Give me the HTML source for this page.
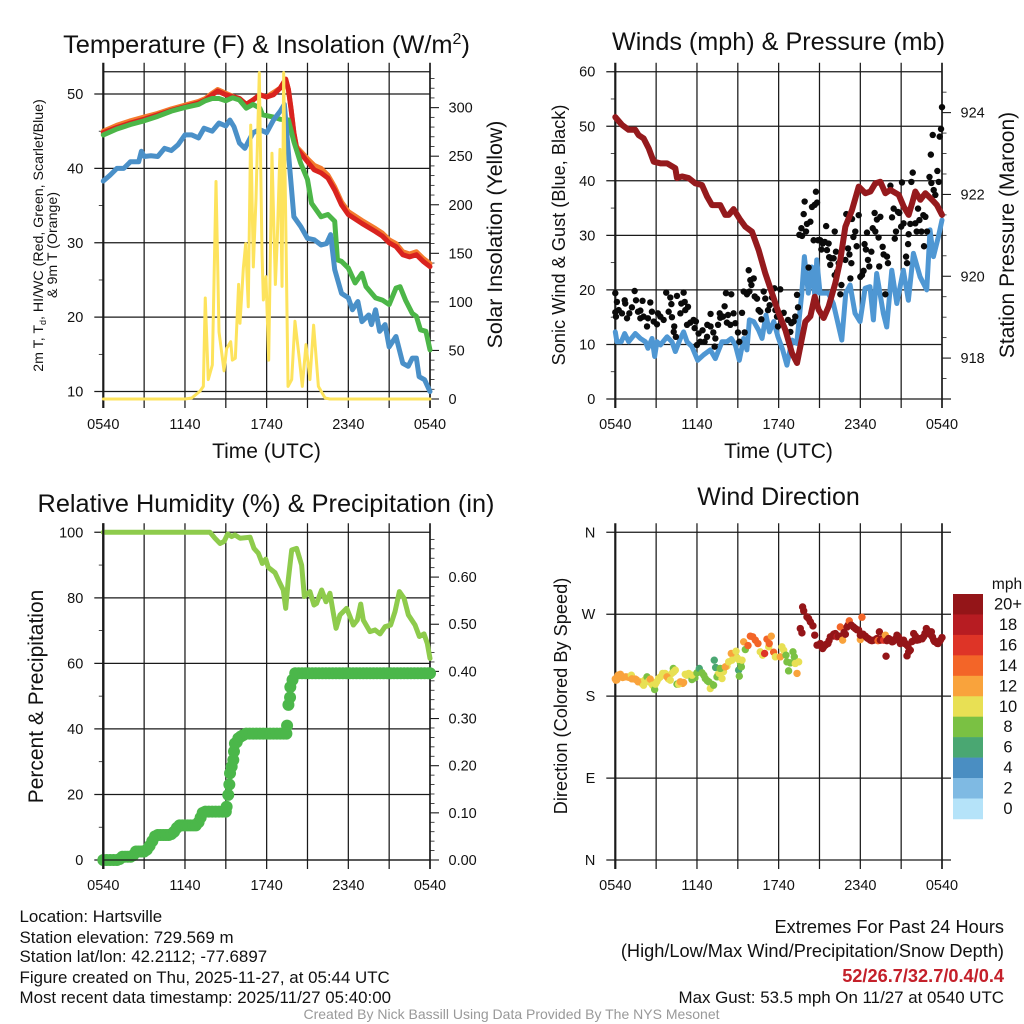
<!DOCTYPE html>
<html lang="en">
<head>
<meta charset="utf-8">
<title>Hartsville Mesonet Meteogram</title>
<style>
html,body{margin:0;padding:0;background:#fff;}
svg{display:block;}
text{font-family:"Liberation Sans",Arial,sans-serif;fill:#111;}
</style>
</head>
<body>
<svg id="figure" xmlns="http://www.w3.org/2000/svg" width="1024" height="1024" viewBox="0 0 1024 1024">
<rect x="0" y="0" width="1024" height="1024" fill="#fff"/>
<g id="p1"></g>
<g id="p2"></g>
<g id="p3"></g>
<g id="p4"></g>
<g id="legend"></g>

<text x="266.5" y="53" font-size="25.4" text-anchor="middle">Temperature (F) &amp; Insolation (W/m<tspan dy="-9" font-size="16">2</tspan><tspan dy="9">)</tspan></text>
<text x="778.5" y="50" font-size="25.2" text-anchor="middle">Winds (mph) &amp; Pressure (mb)</text>
<text x="266" y="512" font-size="25.3" text-anchor="middle">Relative Humidity (%) &amp; Precipitation (in)</text>
<text x="778.5" y="505" font-size="25" text-anchor="middle">Wind Direction</text>

<text x="266.5" y="458" font-size="21" text-anchor="middle">Time (UTC)</text>
<text x="778.5" y="458" font-size="21" text-anchor="middle">Time (UTC)</text>

<text transform="translate(43,235.5) rotate(-90)" font-size="14.2" text-anchor="middle">2m T, T<tspan dy="3" font-size="9">d</tspan><tspan dy="-3">, HI/WC (Red, Green, Scarlet/Blue)</tspan></text>
<text transform="translate(57,245) rotate(-90)" font-size="14.2" text-anchor="middle">&amp; 9m T (Orange)</text>
<text transform="translate(502,234.5) rotate(-90)" font-size="21.3" text-anchor="middle">Solar Insolation (Yellow)</text>
<text transform="translate(565,235) rotate(-90)" font-size="18.2" text-anchor="middle">Sonic Wind &amp; Gust (Blue, Black)</text>
<text transform="translate(1014,235) rotate(-90)" font-size="21" text-anchor="middle">Station Pressure (Maroon)</text>
<text transform="translate(43,696.5) rotate(-90)" font-size="21" text-anchor="middle">Percent &amp; Precipitation</text>
<text transform="translate(567,696) rotate(-90)" font-size="18.2" text-anchor="middle">Direction (Colored By Speed)</text>

<text x="19.5" y="922" font-size="16.9">Location: Hartsville</text>
<text x="19.5" y="943" font-size="16.9">Station elevation: 729.569 m</text>
<text x="19.5" y="962" font-size="16.9">Station lat/lon: 42.2112; -77.6897</text>
<text x="19.5" y="983" font-size="16.9">Figure created on Thu, 2025-11-27, at 05:44 UTC</text>
<text x="19.5" y="1003" font-size="16.9">Most recent data timestamp: 2025/11/27 05:40:00</text>

<text x="1004" y="933" font-size="18.2" text-anchor="end">Extremes For Past 24 Hours</text>
<text x="1004" y="957" font-size="18.2" text-anchor="end">(High/Low/Max Wind/Precipitation/Snow Depth)</text>
<text x="1004" y="982" font-size="18.2" font-weight="bold" text-anchor="end" style="fill:#c4202a">52/26.7/32.7/0.4/0.4</text>
<text x="1004" y="1003" font-size="16.9" text-anchor="end">Max Gust: 53.5 mph On 11/27 at 0540 UTC</text>
<text x="511.5" y="1019" font-size="14" text-anchor="middle" style="fill:#999">Created By Nick Bassill Using Data Provided By The NYS Mesonet</text>
</svg>

<script>
// ---- Shared axis data ----
const timeTickHours = [0,3,6,9,12,15,18,21,24];
const timeLabelHours = [0,6,12,18,24];
const timeLabels = ['0540','1140','1740','2340','0540'];

// ---- Panel 1: temperature (F) and insolation (W/m2) ----
const orangeHours = [0,1,2,3,4,5,6,7,7.5,8,8.4,9,9.5,10,10.5,11,11.5,12,13,13.4,13.6,13.8,14,14.2,15,15.5,16,16.5,17,17.5,18,19,20,20.5,21,21.5,22,22.5,23,23.5,24];
const orangeTemp = [45,45.8,46.4,46.9,47.4,48,48.5,49,49.4,50.1,50.6,50.1,49.7,49.4,48.6,49.2,49.9,49.6,50.8,52,50.6,47.9,44.8,42.9,41.3,40.4,40,39.1,37.5,35.5,34.2,33,31.9,31.3,30.4,29.9,28.8,28.5,28.8,27.9,27.2];
const redHours = [0,1,2,3,4,5,6,7,7.5,8,8.4,9,10,10.5,11,11.5,12,12.5,13,13.4,13.6,13.8,14,14.2,15,15.5,16,16.5,17,17.5,18,19,20,20.5,21,21.5,22,22.5,23,23.5,24];
const redTemp = [44.8,45.5,46.1,46.6,47.2,47.8,48.3,48.8,49.2,49.9,50.4,49.9,49.4,48.6,49.2,49.9,49.6,49.9,50.8,52,50.6,47.9,44.8,42.7,40.9,39.8,39.4,38.7,37.1,35.1,33.8,32.6,31.5,30.9,30,29.5,28.4,28.1,28.4,27.5,26.8];
const greenHours = [0,1,2,3,4,5,6,7,7.5,8,8.5,9,9.5,10,10.5,11,11.5,11.7,12.5,13,13.6,14,14.5,15,15.3,16,16.5,17,17.2,17.5,18,18.5,19,19.3,20,20.5,21,21.5,21.8,22.2,22.7,23,23.3,23.7,24];
const greenDewpoint = [44.5,45.3,45.9,46.4,47,47.7,48.2,48.6,49.1,49.4,49.4,49.1,49.5,49.2,48.1,48.6,48.1,47.2,46.9,46.6,46.5,43.6,40.7,38.5,35.3,33.5,33.8,32.9,27.7,27.5,26.6,24.6,25.9,24.1,22.6,22.3,21.7,23.9,24.1,22.3,20.5,20.1,18.3,18.1,15.6];
const blueHours = [0,.5,1,1.5,2,2.6,2.8,3,3.5,4,4.5,5,5.5,6,6.5,7,7.4,8,8.5,9,9.3,9.6,10,10.4,11,11.5,12,12.5,13,13.3,13.6,14,14.5,15,15.5,16,16.4,16.7,17,17.5,18,18.3,18.7,19,19.5,19.7,20,20.3,20.7,21,21.5,22,22.4,22.7,23,23.2,23.6,24];
const blueWindChill = [38.3,39.1,40,40,40.9,40.9,42.3,41.6,41.7,41.6,42.7,42.4,43.2,44.5,44.5,44.1,45.4,45,46.1,45.7,46.5,45.6,43.4,42.7,44.8,45.2,44.8,46.5,47.7,48.6,42.1,33.5,32.2,30.6,30.4,29.7,29.9,31.1,26.4,23.2,22.6,21,22.1,19.4,20.3,19,21,18.1,19,16,17.4,13.8,13.4,14.5,14.5,12,11.6,10];
const solarHours = [0,6,6.5,7.1,7.35,7.49,7.71,8.01,8.28,8.5,8.87,9.06,9.36,9.48,9.7,9.94,10.04,10.29,10.46,10.65,10.83,11.02,11.22,11.46,11.66,11.76,11.95,12.15,12.39,12.64,12.78,12.98,13.13,13.25,13.57,13.84,14.08,14.38,14.62,14.89,15.18,15.45,15.8,16.29,16.65,24];
const solarWatts = [0,0,1,8,13,104,20,35,224,69,29,52,59,40,42,118,78,135,160,95,282,136,207,336,150,102,126,40,253,118,164,257,116,336,13,20,80,44,13,56,20,76,13,1,0,0];
const tempTicks = [10,20,30,40,50];
const tempMinorTicks = [15,25,35,45];
const solarTicks = [0,50,100,150,200,250,300];
const solarMinorTicks = [10,20,30,40,60,70,80,90,110,120,130,140,160,170,180,190,210,220,230,240,260,270,280,290,310,320,330];

// ---- Panel 2: winds (mph) and station pressure (mb) ----
const pressureHours = [0,.49,.98,1.47,1.71,2.08,2.45,2.82,3.31,3.8,4.41,4.53,4.9,5.39,5.88,6.37,6.74,7.1,7.71,8.08,8.33,8.69,9.18,9.55,10.04,10.53,11.02,11.51,12,12.49,12.98,13.35,13.59,13.96,14.33,14.65,14.94,15.31,15.67,16.16,16.53,16.9,17.39,17.88,18.37,18.74,19.1,19.47,19.84,20.21,20.82,21.19,21.55,21.8,22.04,22.41,22.78,23.27,23.63,24];
const pressureMb = [923.89,923.7,923.58,923.58,923.45,923.37,923.13,922.8,922.76,922.76,922.64,922.4,922.44,922.4,922.27,922.23,921.95,921.74,921.74,921.5,921.5,921.64,921.38,921.21,921.09,920.64,920.07,919.59,919.1,918.69,918.12,917.88,918.28,918.89,919.02,919.5,919.18,918.98,919.26,919.83,920.4,921.21,921.62,922.19,922.03,922.07,922.27,922.31,922.03,922.11,921.99,921.7,921.5,921.78,922.07,921.87,922.03,921.87,921.74,921.5];
const windHours = [0,.12,.44,.69,.98,1.47,1.84,2.21,2.4,2.7,2.89,3.06,3.31,3.8,4.16,4.41,4.78,5.02,5.27,5.63,6.05,6.49,6.98,7.35,7.84,8.2,8.52,8.82,9.11,9.43,9.67,9.85,10.17,10.53,10.78,11.07,11.32,11.64,11.95,12.3,12.61,12.98,13.33,13.7,13.89,14.18,14.43,14.67,14.8,15.04,15.65,16.02,16.64,16.93,17.25,17.61,17.98,18.35,18.71,18.96,19.2,19.69,19.94,20.31,20.68,21.16,21.53,21.9,22.39,22.88,23.12,23.37,23.73,24];
const windMph = [12.3,10.5,10.5,12,10.5,12,11.1,10.5,9.3,11.1,7.8,10.5,9.9,11.4,10.5,8.7,11.1,12.3,10.5,9.6,7.1,8.1,9,7.4,10.5,10.5,11.1,9.9,7.1,11.1,9,14.5,14.2,12.6,11.1,15.4,12.3,14.2,11.4,9,6.2,10.8,10.2,19.4,26.1,19.4,24.2,18.7,25.5,19.4,19.4,17.5,10.8,19.4,20.9,15.7,14.2,20.3,20.6,14.5,23,15.7,13.2,23.6,17.5,23.6,18.1,26.7,22.4,20,31,26.1,29.7,32.8];
const gustHours = [0,0,.12,.05,.25,.49,.69,.73,.86,1.03,1.22,1.42,1.52,1.67,1.84,2,1.84,2.08,2.33,2.4,2.57,2.69,2.82,3.06,3.13,3.31,3.55,3.74,3.92,4.04,4.12,4.16,4.33,4.29,4.53,4.45,4.78,4.85,5.02,5.1,5.14,5.34,5.27,5.51,5.75,5.83,5.92,6,6.12,6.24,6.41,6.56,6.74,6.76,7,7,7.2,7.35,7.3,7.55,7.67,7.71,7.91,8.03,8.13,8.2,8.28,8.45,8.52,8.69,8.82,9.01,9.11,9.31,9.43,9.5,9.67,9.8,9.92,10,9.85,10.17,10.24,10.41,10.53,10.65,10.73,10.9,11.02,11.22,11.34,11.51,11.69,11.76,11.88,11.95,12.12,12.37,12.69,12.86,12.93,13.1,13.22,13.35,13.42,13.52,13.67,13.72,13.84,13.91,14.01,14.08,14.2,14.33,14.45,14.57,14.65,14.74,14.82,14.89,15.06,15.14,15.24,15.39,15.49,15.55,15.67,15.71,15.86,15.79,16.04,16.12,16.21,16.12,16.29,16.41,16.53,16.61,16.9,16.97,17.1,17.2,17.27,17.34,17.39,17.49,17.63,17.73,17.88,18,18.12,18.24,18.31,18.41,18.49,18.56,18.66,18.81,18.91,19.05,19.1,19.22,19.34,19.39,19.47,19.64,19.71,19.84,19.96,20.03,20.21,20.33,20.45,20.53,20.62,20.76,20.86,21,21.06,21.18,21.36,21.43,21.51,21.55,21.67,21.75,21.85,22.04,22.14,22.24,22.34,22.49,22.63,22.78,22.68,22.9,23.08,23.18,23.32,23.22,23.39,23.51,23.66,23.76,23.83,23.93,24];
const gustMph = [19.4,15.9,17.8,15.1,16.3,15.7,18.1,17.5,14.8,15.7,16.8,19.8,18.1,16,16.2,18,14.8,15.1,13.3,14.8,17.7,16,14.2,13.7,15.7,15.1,14.5,19.5,16,18.6,17.4,15,13.3,12.3,18.9,11.4,15.7,17.5,19.5,17.8,16.3,16.9,13.6,14,14.5,13,14.2,9.9,12,10.5,12.6,10.5,11.4,13.6,15.6,13.3,12.2,11.1,9.6,13.6,15.7,14.9,15.1,17,19.4,14,15.4,13.6,19.2,15.7,13.9,12.2,10.5,15.8,19.7,12.2,19.2,23.6,21.8,20.9,19.7,22.1,18.8,18.4,16.3,16,14.6,19.7,18.4,16.3,17.2,18.6,20.3,16.3,15.1,13.3,20.1,15.8,14.5,12.3,13.9,14.2,15.1,19.1,16.8,30.1,31.3,29.9,33.9,36.2,30.7,32.1,24.1,32.5,35.2,29.1,35.6,38,36,29.1,29.1,27.4,28.5,28.8,31.7,27.3,28.5,26,25.8,24.6,25.8,30.7,27,22.7,23.3,24.9,19.2,20.9,25.5,33.9,27.6,26.5,22.1,24.9,33,29.7,30.7,28,33.7,22.4,22.7,23.5,28.4,27.4,30.5,25.5,24.3,27,31.3,34.1,30.7,32.9,29.6,24.3,33.4,27.9,26.5,19.2,26.1,24.9,39.1,33.3,34.9,29.4,30.7,34.3,34.1,31.6,39.7,32.2,26.1,24.9,28.4,30.2,32.1,39.8,41.5,32.2,30.7,34.9,32.8,30.7,33.7,33.4,28,30.7,40.7,44.8,48.4,39.6,38.3,37.4,41.8,39.8,48.1,49.5,53.5];
const mphTicks = [0,10,20,30,40,50,60];
const mphMinorTicks = [5,15,25,35,45,55];
const pressureTicks = [918,920,922,924];
const pressureMinorTicks = [917.5,918.5,919,919.5,920.5,921,921.5,922.5,923,923.5,924.5];

// ---- Panel 3: relative humidity (%) and precipitation (in) ----
const humidityHours = [0,7.84,8.2,8.57,8.87,9.14,9.43,9.67,10.04,10.78,11.07,11.39,11.68,11.93,12.12,12.61,12.98,13.22,13.4,13.59,13.84,14.2,14.57,14.77,15.18,15.48,15.67,16.04,16.36,16.65,16.9,17.1,17.39,17.88,18.37,18.66,18.91,19.1,19.59,19.96,20.33,20.7,21.11,21.43,21.75,22.09,22.41,22.9,23.22,23.56,23.8,24];
const humidityPct = [100,100,98.2,96.6,97.2,99.5,98.7,99.2,98.2,98.5,95.1,93.6,90.5,91.8,89.3,87.7,84.4,82.4,76.8,85.5,94.6,95.1,90,80.4,81.9,77.8,78.3,82.4,78.8,81.4,75.3,70.7,74.8,76.8,71.7,73.2,78.1,73.2,69.7,70.2,69,71.2,71.7,75.8,81.9,79.9,74.8,71.7,68.2,69,66.1,61.5];
const precipHours = [0,.25,.5,.75,1,1.2,1.4,1.6,1.8,2,2.2,2.4,2.6,2.8,3,3.2,3.4,3.6,3.8,4,4.2,4.4,4.6,4.8,5,5.2,5.4,5.6,5.8,6,6.2,6.4,6.6,6.8,7,7.15,7.3,7.5,7.75,8,8.25,8.5,8.75,9,9.06,9.18,9.26,9.31,9.43,9.55,9.6,9.67,9.8,9.92,10.1,10.29,10.5,10.75,11,11.25,11.5,11.75,12,12.25,12.5,12.75,13,13.25,13.45,13.5,13.6,13.72,13.74,13.9,14.1,14.35,14.6,14.85,15.1,15.35,15.6,15.85,16.1,16.35,16.6,16.85,17.1,17.35,17.6,17.85,18.1,18.35,18.6,18.85,19.1,19.35,19.6,19.85,20.1,20.35,20.6,20.85,21.1,21.35,21.6,21.85,22.1,22.35,22.6,22.85,23.1,23.35,23.6,23.85,24];
const precipInches = [0,0,0,0,0,.002,.007,.007,.007,.007,.01,.018,.018,.018,.018,.022,.03,.04,.05,.053,.053,.053,.053,.053,.055,.06,.068,.0735,.0735,.0735,.0735,.0735,.0735,.0735,.08,.09,.1,.1025,.1025,.1025,.1025,.1025,.1025,.1025,.113,.138,.16,.184,.198,.212,.23,.247,.25,.258,.262,.265,.268,.268,.268,.268,.268,.268,.268,.268,.268,.268,.268,.268,.268,.285,.329,.345,.367,.382,.396,.396,.396,.396,.396,.396,.396,.396,.396,.396,.396,.396,.396,.396,.396,.396,.396,.396,.396,.396,.396,.396,.396,.396,.396,.396,.396,.396,.396,.396,.396,.396,.396,.396,.396,.396,.396,.396,.396,.396,.396];
const pctTicks = [0,20,40,60,80,100];
const pctMinorTicks = [10,30,50,70,90];
const precipTicks = [0,.1,.2,.3,.4,.5,.6];
const precipLabels = ['0.00','0.10','0.20','0.30','0.40','0.50','0.60'];
const precipMinorTicks = [.02,.04,.06,.08,.12,.14,.16,.18,.22,.24,.26,.28,.32,.34,.36,.38,.42,.44,.46,.48,.52,.54,.56,.58,.62,.64,.66,.68];

// ---- Panel 4: wind direction (deg), colored by speed (mph) ----
const directionHours = [.12,.3,.45,.65,.9,1.1,1.35,1.55,1.8,1.95,2.25,2.65,3.05,3.3,3.65,3.9,4.15,4.85,4.95,5.25,5.5,5.85,6.25,6.5,6.75,7.1,7.55,7.95,8.2,8.7,8.95,9.2,0,.05,.2,.37,.54,.78,1.03,1.18,1.22,1.47,1.67,2.08,2.16,2.33,2.45,2.57,2.74,2.89,2.94,3.18,3.48,3.8,4.04,4.26,4.29,4.41,4.53,4.65,4.78,5.02,5.14,5.39,5.63,5.63,6,6.17,6.37,6.61,6.86,6.98,7.22,7.27,7.37,7.47,7.64,7.84,7.71,8.08,8.33,8.52,8.57,8.87,9.06,9.06,9.11,9.26,9.31,9.43,9.55,9.75,9.92,10.09,10.29,10.48,10.65,10.82,10.97,11.14,11.27,11.31,11.46,11.63,11.76,12.12,12.24,12.37,12.54,12.61,12.73,12.86,13.05,13.15,13.22,13.35,13.47,13.59,13.71,13.76,13.84,14.08,14.2,14.33,14.52,14.65,14.82,15,15.06,15.23,15.3,15.43,15.5,15.62,15.7,15.8,16,16.04,16.16,16.29,16.4,16.53,16.7,16.8,16.9,17.02,17.1,17.19,17.34,17.5,17.63,17.75,17.88,18,18,18.12,18.2,18.37,18.5,18.6,18.74,18.85,18.98,19.1,19.22,19.3,19.4,19.47,19.6,19.71,19.84,19.89,19.95,20.08,20.2,20.33,20.4,20.52,20.6,20.69,20.8,20.94,21.05,21.18,21.25,21.31,21.43,21.43,21.5,21.55,21.67,21.8,21.92,21.97,22.05,22.16,22.3,22.41,22.55,22.65,22.75,22.85,22.95,23.02,23.1,23.22,23.3,23.39,23.45,23.56,23.65,23.71,23.8,23.88,24];
const directionDegrees = [198,203,202,201,201,201,199,198,196,194,196,194,196,201,205,199,205,195,194,203,203,200,207,203,197,193,204,207,213,224,222,216,199,197.6,203,204,200.5,201.2,200.5,203,199,198.7,195.8,192,197.6,201.2,196.5,198.7,192,187.3,193.2,199.4,205,201.2,197.6,210.4,206.7,208.6,193.2,193.2,195.8,195,204,205,198.3,203,205.6,210.4,205.6,199.4,195.8,188.4,192,219.5,211.5,201.2,205,199.4,210.4,212.2,217.7,226.9,219.5,229.4,208.6,220.3,202,212.2,219.5,239.7,231.2,235.6,245.9,245.2,241.5,237.8,228.7,225,226.9,242.6,234.2,237.8,245.9,228.3,223.2,223.2,234.2,230.5,225,217.7,207.8,216.6,228.7,223.2,215.9,205,217.7,254.3,249.5,278,273.7,267.1,265.3,261.6,257.2,247,236,236,237.8,232.3,234,236,237,237.8,241,245.2,246,248,248.8,245.2,246,256,241.5,250,248,256,258,262.7,258,256,254.3,253,252.5,242.2,247,266.7,248,245.9,244,243,241.5,241,241.5,242,243.3,241,250.6,241.5,243,241.5,247,223.9,241,243.3,242,239.7,240,241.5,243,247,245,237.8,240,241.5,238,237.8,236,224.3,235,228.7,230.5,240,248.8,241.5,246,241.5,242,243.3,243,245.2,249,254.3,252,250.6,248,250.6,245,241.5,240,239.7,238,237.8,240,241.5,244.4];
const directionSpeeds = [12,12,12,12,12,12,12,12,10,10,10,10,10,10,10,10,10,10,12,10,10,8,8,8,8,8,10,10,10,10,10,8,12,12,12,12,12,12,12,10,12,12,12,10,10,8,10,12,10,8,10,10,10,12,10,8,10,10,8,10,12,12,10,10,8,10,8,6,8,8,8,10,8,6,6,8,10,10,8,12,10,12,10,10,6,10,8,8,10,12,8,14,14,14,14,14,10,10,16,14,10,14,12,14,10,12,10,10,8,8,8,8,8,8,10,12,10,20,20,20,20,20,20,20,20,20,20,20,20,20,20,20,20,20,20,20,20,20,20,18,20,14,12,20,20,20,20,14,20,20,20,20,20,12,20,14,20,20,20,20,20,20,20,20,20,14,20,20,20,16,12,20,20,20,20,20,20,20,20,20,20,20,20,20,20,20,20,20,20,20,20,20,20,20,20,20,20,20,20,20,20,20,20,20,20,20,20,20,20,20,20,20,20,20,20,20,20];
const compassTicks = [0,90,180,270,360];
const compassLabels = ['N','E','S','W','N'];

// ---- Speed legend ----
const legendLabels = ['20+','18','16','14','12','10','8','6','4','2','0'];
const speedColors = ['#b5e3f9','#7fbae3','#4a8ec2','#4aa772','#7ac143','#e8e054','#f9a33c','#f36528','#de3427','#b71c22','#941518'];

// ---- Helpers ----
const NS = 'http://www.w3.org/2000/svg';
function svgEl(tag, attrs, parent) {
  const el = document.createElementNS(NS, tag);
  for (const k in attrs) el.setAttribute(k, attrs[k]);
  parent.appendChild(el);
  return el;
}
function scale(d0, d1, r0, r1) {
  return v => r0 + (v - d0) / (d1 - d0) * (r1 - r0);
}
function pathFrom(xs, ys, xf, yf) {
  let d = '';
  for (let i = 0; i < xs.length; i++) {
    d += (i ? 'L' : 'M') + xf(xs[i]).toFixed(2) + ' ' + yf(ys[i]).toFixed(2);
  }
  return d;
}
function drawLine(parent, xs, ys, xf, yf, color, width, name) {
  const p = svgEl('path', {d: pathFrom(xs, ys, xf, yf), fill: 'none', stroke: color, 'stroke-width': width, 'stroke-linejoin': 'round', 'stroke-linecap': 'round'}, parent);
  
  
  return p;
}
const INK = '#1a1a1a';
function hLine(parent, x1, x2, y, width, name) {
  const l = svgEl('line', {x1: x1, x2: x2, y1: y, y2: y, stroke: INK, 'stroke-width': width}, parent);
  
  
}
function vLine(parent, x, y1, y2, width, name) {
  const l = svgEl('line', {x1: x, x2: x, y1: y1, y2: y2, stroke: INK, 'stroke-width': width}, parent);
  
  
}
function label(parent, x, y, str, anchor, size, name) {
  const t = svgEl('text', {x: x, y: y, 'text-anchor': anchor, 'font-size': size}, parent);
  t.textContent = str;
  
  
}
// Grid, time ticks and time labels, common to every panel.
function drawTimeAxis(parent, box, xf) {
  timeTickHours.forEach(h => {
    vLine(parent, xf(h), box.top - 9, box.bottom + 9, h === 0 ? 2.2 : (h === 24 ? 1.7 : 1.25), 'time-gridline');
  });
  timeLabelHours.forEach((h, i) => {
    label(parent, xf(h), box.bottom + 30, timeLabels[i], 'middle', 14.5, 'time-tick-label');
  });
}
function drawLeftTicks(parent, box, ticks, minor, texts, yf) {
  ticks.forEach((v, i) => {
    hLine(parent, box.left - 9, box.axisRight, yf(v), 1.25, 'left-gridline');
    label(parent, box.left - 20, yf(v) + 5, texts ? texts[i] : String(v), 'end', 14.5, 'left-tick-label');
  });
  minor.forEach(v => {
    hLine(parent, box.left - 4.5, box.left, yf(v), 0.8, 'left-minor-tick');
  });
}
function drawRightTicks(parent, box, ticks, minor, texts, yf) {
  ticks.forEach((v, i) => {
    hLine(parent, box.right, box.right + 9, yf(v), 1.1, 'right-major-tick');
    label(parent, box.right + 18.5, yf(v) + 5, texts ? texts[i] : String(v), 'start', 14.5, 'right-tick-label');
  });
  minor.forEach(v => {
    hLine(parent, box.right, box.right + 4.5, yf(v), 0.8, 'right-minor-tick');
  });
}

// ---- Panel 1 ----
(function () {
  const g = document.getElementById('p1');
  const box = {left: 103.3, right: 430, top: 71.7, bottom: 399, axisRight: 430};
  const xf = scale(0, 24, box.left, box.right);
  const yT = scale(9, 53, box.bottom, box.top);
  const yS = scale(0, 337, box.bottom, box.top);
  hLine(g, box.left, box.right, box.top, 1.25, 'top-border');
  hLine(g, box.left, box.right, box.bottom, 1.25, 'bottom-border');
  drawTimeAxis(g, box, xf);
  drawLeftTicks(g, box, tempTicks, tempMinorTicks, null, yT);
  drawRightTicks(g, box, solarTicks, solarMinorTicks, null, yS);
  drawLine(g, orangeHours, orangeTemp, xf, yT, '#f47b2e', 5, 'temperature-9m-line');
  drawLine(g, redHours, redTemp, xf, yT, '#d9231f', 5, 'temperature-2m-line');
  drawLine(g, greenHours, greenDewpoint, xf, yT, '#4cb648', 5, 'dewpoint-line');
  drawLine(g, blueHours, blueWindChill, xf, yT, '#4a90c8', 5, 'wind-chill-line');
  drawLine(g, solarHours, solarWatts, xf, yS, '#fde35c', 3, 'solar-insolation-line');
})();

// ---- Panel 2 ----
(function () {
  const g = document.getElementById('p2');
  const box = {left: 615.3, right: 942, top: 71.7, bottom: 399, axisRight: 942};
  const xf = scale(0, 24, box.left, box.right);
  const yW = scale(0, 60, box.bottom, box.top);
  const yP = scale(917, 925, box.bottom, box.top);
  drawTimeAxis(g, box, xf);
  drawLeftTicks(g, box, mphTicks, mphMinorTicks, null, yW);
  hLine(g, box.right, box.right + 9, box.bottom, 1.25, 'bottom-right-tick');
  drawRightTicks(g, box, pressureTicks, pressureMinorTicks, null, yP);
  drawLine(g, windHours, windMph, xf, yW, '#4f97d3', 5, 'sonic-wind-line');
  gustHours.forEach((h, i) => {
    const c = svgEl('circle', {cx: xf(h), cy: yW(gustMph[i]), r: 3.2, fill: '#0a0a0a'}, g);
    
    
  });
  drawLine(g, pressureHours, pressureMb, xf, yP, '#951a1d', 6, 'station-pressure-line');
})();

// ---- Panel 3 ----
(function () {
  const g = document.getElementById('p3');
  const box = {left: 103.3, right: 430, top: 532.3, bottom: 860, axisRight: 430};
  const xf = scale(0, 24, box.left, box.right);
  const yH = scale(0, 100, box.bottom, box.top);
  const yR = scale(0, 0.695, box.bottom, box.top);
  drawTimeAxis(g, box, xf);
  drawLeftTicks(g, box, pctTicks, pctMinorTicks, null, yH);
  drawRightTicks(g, box, precipTicks, precipMinorTicks, precipLabels, yR);
  drawLine(g, humidityHours, humidityPct, xf, yH, '#8ecb4c', 5, 'relative-humidity-line');
  precipHours.forEach((h, i) => {
    const c = svgEl('circle', {cx: xf(h), cy: yR(precipInches[i]), r: 6, fill: '#4bb74a'}, g);
    
    
  });
  hLine(g, box.left, box.right, box.bottom, 1.25, 'bottom-axis-line');
  vLine(g, box.left, box.top - 9, box.bottom + 9, 2.2, 'left-axis-line');
})();

// ---- Panel 4 ----
(function () {
  const g = document.getElementById('p4');
  const box = {left: 615.3, right: 942, top: 532.3, bottom: 860, axisRight: 951};
  const xf = scale(0, 24, box.left, box.right);
  const yD = scale(0, 360, box.bottom, box.top);
  drawTimeAxis(g, box, xf);
  drawLeftTicks(g, box, compassTicks, [], compassLabels, yD);
  directionHours.forEach((h, i) => {
    const bin = Math.min(10, Math.floor(directionSpeeds[i] / 2));
    const c = svgEl('circle', {cx: xf(h), cy: yD(directionDegrees[i]), r: 3.7, fill: speedColors[bin]}, g);
    
    
  });
})();

// ---- Legend ----
(function () {
  const g = document.getElementById('legend');
  const top = 594, cell = 20.45;
  label(g, 1007, 589, 'mph', 'middle', 15.5, 'legend-units');
  legendLabels.forEach((txt, i) => {
    const r = svgEl('rect', {x: 953, y: top + i * cell, width: 30, height: cell + 0.3, fill: speedColors[10 - i]}, g);
    
    
    label(g, 1008, top + i * cell + 15.5, txt, 'middle', 16.5, 'legend-label');
  });
})();
</script>
</body>
</html>
